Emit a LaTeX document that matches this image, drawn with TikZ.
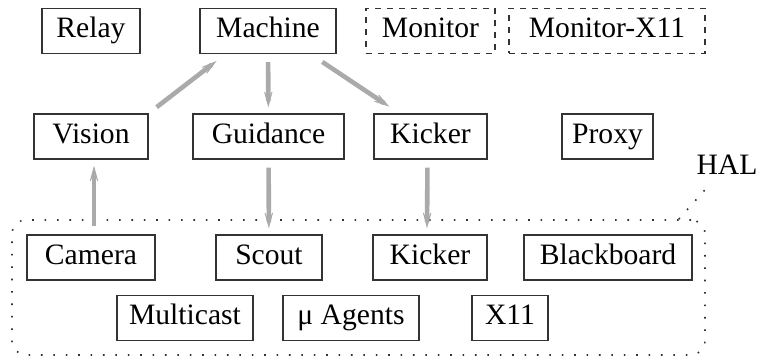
\documentclass[tikz,border=0pt]{standalone}
\usepackage{fontspec}
\setmainfont{Liberation Serif}
\newfontfamily\labelfont{Liberation Serif}
\usetikzlibrary{arrows.meta}

\begin{document}
\begin{tikzpicture}[x=0.5pt, y=-0.5pt,
    box/.style={draw=borderColour, line width=0.7pt, minimum height=22.5pt, inner sep=0pt,
        text height=10pt, text depth=3pt, font=\labelfont\fontsize{14.8}{18}\selectfont},
    optbox/.style={box, dashed},
    flow/.style={draw=arrowColour, line width=2.3pt, shorten <=4pt, shorten >=3pt,
        -{Stealth[length=11pt, width=6pt, inset=7.5pt, line width=0.4pt]}},
    halregion/.style={draw=borderColour, line width=0.8pt, dash pattern=on 0.8pt off 5.4pt,
        rounded corners=7pt, minimum width=346.5pt, minimum height=67.5pt, inner sep=0pt}]
    \definecolor{borderColour}{HTML}{333333}
    \definecolor{arrowColour}{HTML}{AAAAAA}

    \useasboundingbox (0,0) rectangle (761,356);

    % Top row
    \node[box, minimum width=49pt] (relay) at (91,31) {Relay};
    \node[box, minimum width=68pt] (machine) at (268,31) {Machine};
    \node[optbox, minimum width=64.5pt] (monitor) at (430.5,31) {Monitor};
    \node[optbox, minimum width=98pt] (monitorx) at (607,31) {Monitor-X11};

    % Middle row
    \node[box, minimum width=57pt] (vision) at (91,136.5) {Vision};
    \node[box, minimum width=75.5pt] (guidance) at (268.5,136.5) {Guidance};
    \node[box, minimum width=56.5pt] (kicker) at (430.5,136.5) {Kicker};
    \node[box, minimum width=45.5pt] (proxy) at (607.5,136.5) {Proxy};

    % HAL region
    \node[halregion] (hal) at (358.5,287.5) {};
    \node[font=\labelfont\fontsize{14.8}{18}\selectfont, inner sep=4pt] (hallabel) at (727,165) {HAL};
    \coordinate (halpin) at ([xshift=-13.5pt]hal.north east);
    \draw[draw=borderColour, line width=0.8pt, dash pattern=on 0.8pt off 5.4pt] (halpin) -- (hallabel);

    \node[box, minimum width=64pt] (camera) at (91,257.5) {Camera};
    \node[box, minimum width=53pt] (scout) at (269,257.5) {Scout};
    \node[box, minimum width=57pt] (halkicker) at (430,257.5) {Kicker};
    \node[box, minimum width=84pt] (blackboard) at (608,257.5) {Blackboard};
    \node[box, minimum width=68pt] (multicast) at (185,318) {Multicast};
    \node[box, minimum width=68pt] (agents) at (351,318) {μ Agents};
    \node[box, minimum width=38pt] (xeleven) at (510,318) {X11};

    % Data flow
    \draw[flow, shorten <=5pt, shorten >=5.5pt] (vision.north east) -- ([xshift=13pt]machine.south west);
    \draw[flow] (machine) -- (guidance);
    \draw[flow, shorten <=7pt, shorten >=6pt] ([xshift=-13pt]machine.south east) -- ([xshift=13pt]kicker.north west);
    \draw[flow] ([xshift=1.5pt]camera.north) -- ([xshift=1.5pt]vision.south);
    \draw[flow] (guidance) -- (scout);
    \draw[flow] ([xshift=-1.5pt]kicker.south) -- ([xshift=-1.5pt]halkicker.north);

\end{tikzpicture}
\end{document}
